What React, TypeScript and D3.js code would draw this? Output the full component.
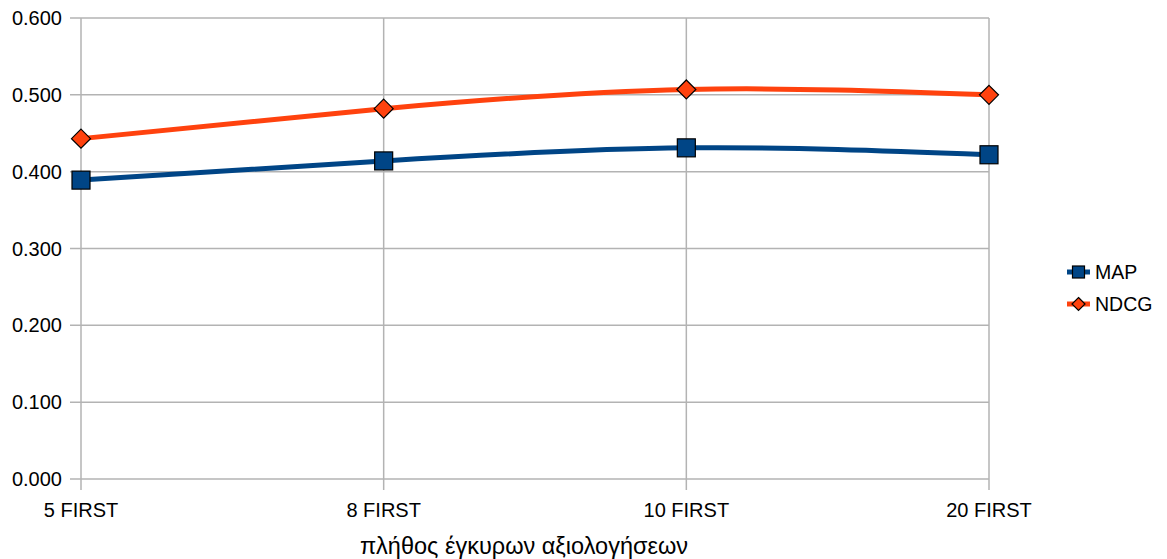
import React from "react";
import * as d3 from "d3";

const categories = ["5 FIRST", "8 FIRST", "10 FIRST", "20 FIRST"];
const mapValues = [0.389, 0.414, 0.431, 0.422];
const ndcgValues = [0.443, 0.482, 0.507, 0.5];
const yTicks = [0, 0.1, 0.2, 0.3, 0.4, 0.5, 0.6];
const xTitle = "πλήθος έγκυρων αξιολογήσεων";

const W = 1167, H = 559;
const left = 81, right = 989, top = 18, bottom = 479;
const FONT = "'Liberation Sans', Arial, sans-serif";
const MAP_C = "#004586";
const NDCG_C = "#ff420e";

export default function App() {
  const x = d3.scalePoint<string>().domain(categories).range([left, right]);
  const y = d3.scaleLinear().domain([0, 0.6]).range([bottom, top]);
  const line = d3
    .line<number>()
    .x((_, i) => x(categories[i])!)
    .y((d) => y(d))
    .curve(d3.curveNatural);

  const square = (cx: number, cy: number, s: number, key: string) => (
    <rect key={key} x={cx - s / 2} y={cy - s / 2} width={s} height={s} fill={MAP_C} stroke="#000" strokeWidth={1.2} />
  );
  const diamond = (cx: number, cy: number, r: number, key: string) => (
    <path key={key} d={`M${cx},${cy - r}L${cx + r},${cy}L${cx},${cy + r}L${cx - r},${cy}Z`} fill={NDCG_C} stroke="#000" strokeWidth={1.2} />
  );

  return (
    <svg width={W} height={H} style={{ position: "absolute", left: 0, top: 0, background: "#fff" }} fontFamily={FONT}>
      {yTicks.map((t) => (
        <g key={t}>
          <line x1={left - 11} x2={right} y1={y(t)} y2={y(t)} stroke="#b3b3b3" strokeWidth={1.5} />
          <text x={62} y={y(t) + 7} textAnchor="end" fontSize={20} fill="#000">
            {t.toFixed(3)}
          </text>
        </g>
      ))}
      {categories.map((c) => (
        <g key={c}>
          <line x1={x(c)!} x2={x(c)!} y1={top} y2={bottom + 11} stroke="#b3b3b3" strokeWidth={1.5} />
          <text x={x(c)!} y={517} textAnchor="middle" fontSize={20} fill="#000">
            {c}
          </text>
        </g>
      ))}
      <text x={524} y={554} textAnchor="middle" fontSize={23.5} fill="#000">
        {xTitle}
      </text>
      <path d={line(mapValues)!} fill="none" stroke={MAP_C} strokeWidth={5} />
      <path d={line(ndcgValues)!} fill="none" stroke={NDCG_C} strokeWidth={5} />
      {mapValues.map((v, i) => square(x(categories[i])!, y(v), 18, "m" + i))}
      {ndcgValues.map((v, i) => diamond(x(categories[i])!, y(v), 9.5, "n" + i))}
      <g>
        <line x1={1067} x2={1090} y1={272} y2={272} stroke={MAP_C} strokeWidth={5} />
        {square(1078.5, 272, 12, "lm")}
        <text x={1095} y={279} fontSize={19.5} fill="#000">MAP</text>
        <line x1={1067} x2={1090} y1={304} y2={304} stroke={NDCG_C} strokeWidth={5} />
        {diamond(1078.5, 304, 6.5, "ln")}
        <text x={1095} y={311} fontSize={19.5} fill="#000">NDCG</text>
      </g>
    </svg>
  );
}
